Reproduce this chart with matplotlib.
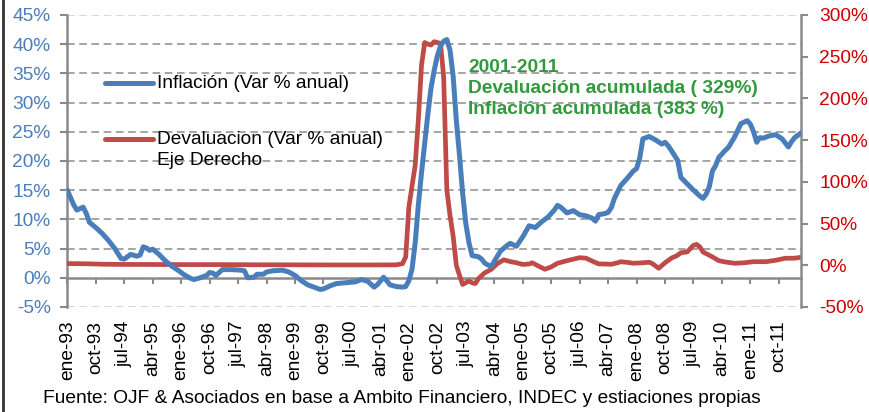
import matplotlib.pyplot as plt
from matplotlib.lines import Line2D

plt.rcParams['font.family'] = ['Liberation Sans', 'DejaVu Sans']

# meses contados desde ene-93 (0 = ene-93)
infl_mes = [0, 2, 3, 5, 6, 7, 9, 11, 13, 15, 17, 18, 20, 22, 23, 24, 25, 26, 27, 29,
            31, 33, 35, 37, 39, 40, 42, 44, 45, 46, 47, 49, 52, 55, 56, 57, 59, 60, 62, 63,
            65, 68, 70, 72, 74, 76, 78, 80, 81, 83, 85, 87, 89, 91, 93, 95, 97, 98, 100, 101,
            102, 104, 106, 107, 108, 109, 110, 111, 112, 113, 114, 115, 116, 117, 118, 119, 120, 121, 122, 123,
            124, 125, 126, 127, 128, 130, 131, 132, 134, 135, 137, 139, 140, 142, 144, 146, 148, 150, 152, 154,
            155, 156, 158, 160, 162, 164, 166, 167, 168, 170, 171, 172, 173, 175, 177, 179, 180, 181, 182, 184,
            186, 188, 189, 190, 191, 193, 194, 196, 198, 200, 201, 202, 203, 204, 205, 206, 208, 209, 211, 213,
            215, 216, 217, 218, 219, 220, 222, 224, 226, 228, 229, 230, 232]
inflacion = [15.0, 12.5, 11.6, 12.1, 11.0, 9.5, 8.6, 7.6, 6.4, 5.0, 3.3, 3.2, 4.0, 3.7, 3.9, 5.3, 5.1, 4.7, 4.9, 4.0,
             2.9, 2.0, 1.3, 0.5, -0.1, -0.3, 0.0, 0.4, 0.9, 0.8, 0.4, 1.4, 1.4, 1.3, 1.2, 0.0, 0.1, 0.6, 0.6, 1.0,
             1.2, 1.3, 1.0, 0.4, -0.5, -1.2, -1.6, -2.0, -1.9, -1.4, -1.0, -0.9, -0.8, -0.7, -0.3, -0.6, -1.6, -1.2, 0.1, -0.5,
             -1.2, -1.5, -1.6, -1.5, -0.5, 1.5, 6.0, 12.5, 18.0, 23.0, 28.0, 32.5, 35.5, 38.0, 39.7, 40.5, 40.8, 39.0, 34.5, 27.0,
             21.0, 14.5, 9.3, 6.0, 3.8, 3.6, 3.2, 2.5, 1.9, 2.8, 4.6, 5.5, 5.9, 5.4, 7.0, 8.9, 8.6, 9.6, 10.4, 11.6,
             12.4, 12.1, 11.1, 11.5, 10.8, 10.6, 10.2, 9.7, 10.8, 11.0, 11.2, 12.0, 13.6, 15.8, 17.0, 18.3, 18.7, 20.5, 23.8, 24.2,
             23.6, 22.9, 23.2, 22.6, 21.8, 20.1, 17.2, 16.1, 15.0, 14.0, 13.6, 14.3, 15.6, 18.3, 19.2, 20.6, 21.8, 22.3, 24.1, 26.4,
             26.9, 26.3, 25.0, 23.2, 24.0, 23.9, 24.3, 24.5, 23.8, 22.4, 23.3, 24.0, 24.8]

deval_mes = [0, 6, 12, 18, 24, 36, 48, 60, 72, 84, 96, 104, 106, 107, 108, 109, 110, 111, 112, 113,
             114, 115, 116, 117, 118, 119, 120, 121, 122, 123, 124, 125, 126, 127, 128, 129, 130, 132, 134, 136,
             138, 140, 142, 144, 146, 147, 149, 151, 153, 155, 157, 159, 162, 164, 166, 168, 170, 172, 174, 175,
             177, 179, 182, 184, 185, 187, 189, 191, 193, 194, 196, 198, 199, 200, 201, 203, 204, 206, 208, 211,
             214, 217, 221, 224, 227, 230, 232]
devaluacion = [2.0, 1.8, 1.2, 1.0, 1.0, 0.8, 0.8, 0.6, 0.5, 0.4, 0.4, 0.5, 2.0, 10, 70, 95, 120, 175, 240, 267,
               265, 264, 268, 267, 266, 226, 90, 60, 35, 0, -12, -23, -21, -19, -21, -22, -16, -9, -5, 2,
               6.5, 4.5, 3, 1, 1.5, 3, -1, -4.8, -2, 2.4, 4.5, 6.4, 9.1, 8.5, 5, 1.6, 1.5, 1.2, 3, 4.3,
               3.5, 2.4, 3, 3.6, 2, -3.6, 3, 8.5, 12, 15, 16, 24, 25, 22, 16, 12, 10, 5.5, 4, 2.4,
               3, 4.3, 4.3, 6, 8.4, 8.5, 9.6]

ticks_x = list(range(0, 226, 9))
etiquetas_x = ['ene-93', 'oct-93', 'jul-94', 'abr-95', 'ene-96', 'oct-96', 'jul-97', 'abr-98', 'ene-99',
               'oct-99', 'jul-00', 'abr-01', 'ene-02', 'oct-02', 'jul-03', 'abr-04', 'ene-05', 'oct-05',
               'jul-06', 'abr-07', 'ene-08', 'oct-08', 'jul-09', 'abr-10', 'ene-11', 'oct-11']
ticks_izq = list(range(-5, 46, 5))
ticks_der = list(range(-50, 301, 50))

azul = '#4a7ebb'
rojo = '#be4b48'
gris = '#8a8a8a'
fs = 13.8

fig = plt.figure(figsize=(8.7, 4.12), dpi=100)
ax = fig.add_axes([0.0774, 0.2549, 0.8433, 0.7087])
ax.set_xlim(0, 232)
ax.set_ylim(-5, 45)

# grilla punteada
ax.set_yticks(ticks_izq)
ax.set_yticklabels(['%d%%' % v for v in ticks_izq])
ax.grid(axis='y', color='#8c8c8c', linestyle=(0, (5, 3)), linewidth=1.1)
gl = ax.get_ygridlines()
gl[0].set_color('#cccccc')
gl[-1].set_color('#cccccc')
gl[1].set_visible(False)

for s in ['top', 'right']:
    ax.spines[s].set_visible(False)
ax.spines['left'].set_color(gris)
ax.spines['left'].set_linewidth(1.8)
ax.spines['bottom'].set_position(('data', 0))
ax.spines['bottom'].set_color(gris)
ax.spines['bottom'].set_linewidth(1.8)

ax.set_xticks(ticks_x)
ax.set_xticklabels(etiquetas_x, rotation=90)
ax.tick_params(axis='x', direction='out', length=4, width=1.5, color=gris, pad=27, labelsize=fs)
ax.tick_params(axis='y', direction='out', length=5, width=1.5, color=gris, pad=7, labelsize=fs, labelcolor=azul)

# eje derecho (devaluacion)
ax2 = ax.twinx()
ax2.set_ylim(-50, 300)
ax2.set_yticks(ticks_der)
ax2.set_yticklabels(['%d%%' % v for v in ticks_der])
for s in ['top', 'left', 'bottom']:
    ax2.spines[s].set_visible(False)
ax2.spines['right'].set_color(gris)
ax2.spines['right'].set_linewidth(1.8)
ax2.tick_params(axis='y', direction='out', length=5, width=1.5, color=gris, pad=8, labelsize=fs, labelcolor='#cc0000')
ax2.plot(deval_mes, devaluacion, color=rojo, linewidth=3.4, solid_capstyle='round')

# inflacion encima
ax3 = ax.twinx()
ax3.set_ylim(-5, 45)
ax3.axis('off')
ax3.plot(infl_mes, inflacion, color=azul, linewidth=3.6, solid_capstyle='round')

# leyenda
ax3.plot([0.052, 0.117], [0.767, 0.767], transform=ax3.transAxes, color=azul, lw=3.6, solid_capstyle='round')
ax3.text(0.122, 0.767, 'Inflación (Var % anual)', transform=ax3.transAxes, fontsize=fs, va='center')
ax3.plot([0.052, 0.117], [0.575, 0.575], transform=ax3.transAxes, color=rojo, lw=3.6, solid_capstyle='round')
ax3.text(0.122, 0.575, 'Devaluacion (Var % anual)', transform=ax3.transAxes, fontsize=fs, va='center')
ax3.text(0.122, 0.500, 'Eje Derecho', transform=ax3.transAxes, fontsize=fs, va='center')

ax3.text(0.546, 0.748, '2001-2011\nDevaluación acumulada ( 329%)\nInflación acumulada (383 %)',
         transform=ax3.transAxes, fontsize=fs, fontweight='bold', color='#33993d', va='center',
         linespacing=1.3)

fig.text(0.0494, 0.0316, 'Fuente: OJF & Asociados en base a Ambito Financiero, INDEC y estiaciones propias',
         fontsize=fs, va='center')
fig.add_artist(Line2D([0.003, 0.003], [0, 1], color='#333333', lw=2))

fig.savefig('out.png', dpi=100)
